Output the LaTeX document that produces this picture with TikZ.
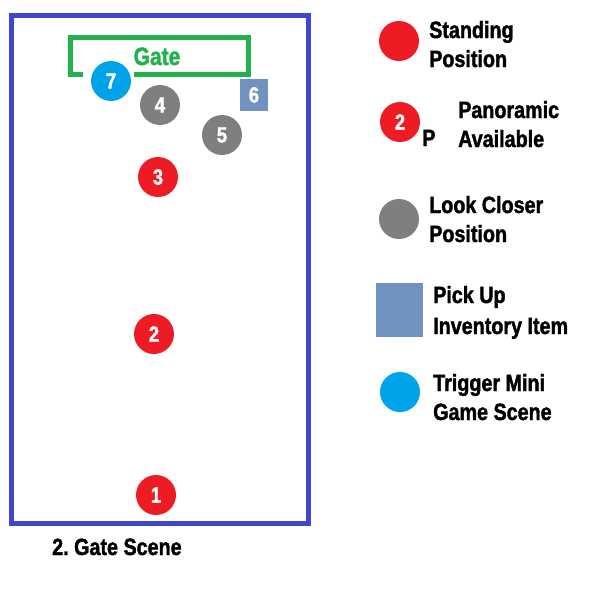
\documentclass[tikz,border=0pt]{standalone}
\usepackage{fontspec}
\newfontfamily\imp[FakeStretch=0.84,FakeBold=1.6]{Liberation Sans}
\frenchspacing
\definecolor{pred}{HTML}{ED1C24}
\definecolor{pgray}{HTML}{7F7F7F}
\definecolor{pcyan}{HTML}{00A2E8}
\definecolor{psteel}{HTML}{7092BE}
\definecolor{pindigo}{HTML}{3F48CC}
\definecolor{pgreen}{HTML}{22B14C}
\begin{document}
\begin{tikzpicture}[x=1pt,y=-1pt,
  spot/.style={circle, minimum size=40pt, inner sep=0pt, fill=#1, draw=none, text=white,
    font=\imp\bfseries\fontsize{22}{22}\selectfont},
  item/.style={rectangle, inner sep=0pt, fill=psteel, text=white,
    font=\imp\bfseries\fontsize{22}{22}\selectfont},
  lbl/.style={anchor=base west, inner sep=0pt, text=black,
    font=\imp\bfseries\fontsize{23.5}{23.5}\selectfont}]
\useasboundingbox (0,0) rectangle (590,589);
% scene frame
\draw[pindigo, line width=5pt] (11.5,15.5) rectangle (308.5,523);
% gate
\draw[pgreen, line width=4.6pt] (83.3,74.2) -| (70.3,37.5) -| (248.4,74.2) -- (134,74.2);
\node[anchor=base, inner sep=0pt, text=pgreen, font=\imp\bfseries\fontsize{25}{25}\selectfont] (gate) at (157,65) {Gate};
% positions
\node[spot=pcyan] (p7) at (111,81) {7};
\node[spot=pgray] (p4) at (160,105) {4};
\node[spot=pgray] (p5) at (222,135) {5};
\node[item, minimum width=28pt, minimum height=32pt] (p6) at (254,95) {6};
\node[spot=pred] (p3) at (158,177) {3};
\node[spot=pred] (p2) at (154,334) {2};
\node[spot=pred] (p1) at (156,495) {1};
\node[lbl] (title) at (52,555) {2. Gate Scene};
% legend
\node[spot=pred] (l1) at (399,41) {};
\node[lbl] (l1a) at (429,38) {Standing};
\node[lbl] (l1b) at (429,67) {Position};
\node[spot=pred] (l2) at (400,122) {2};
\node[lbl] (l2p) at (422,146) {P};
\node[lbl] (l2a) at (458,118) {Panoramic};
\node[lbl] (l2b) at (458,147) {Available};
\node[spot=pgray] (l3) at (399,219) {};
\node[lbl] (l3a) at (429,213) {Look Closer};
\node[lbl] (l3b) at (429,242) {Position};
\node[item, minimum width=47pt, minimum height=54pt] (l4) at (399.5,310) {};
\node[lbl] (l4a) at (433,303) {Pick Up};
\node[lbl] (l4b) at (433,334) {Inventory Item};
\node[spot=pcyan] (l5) at (400,392) {};
\node[lbl] (l5a) at (433,391) {Trigger Mini};
\node[lbl] (l5b) at (433,420) {Game Scene};
\end{tikzpicture}
\end{document}
